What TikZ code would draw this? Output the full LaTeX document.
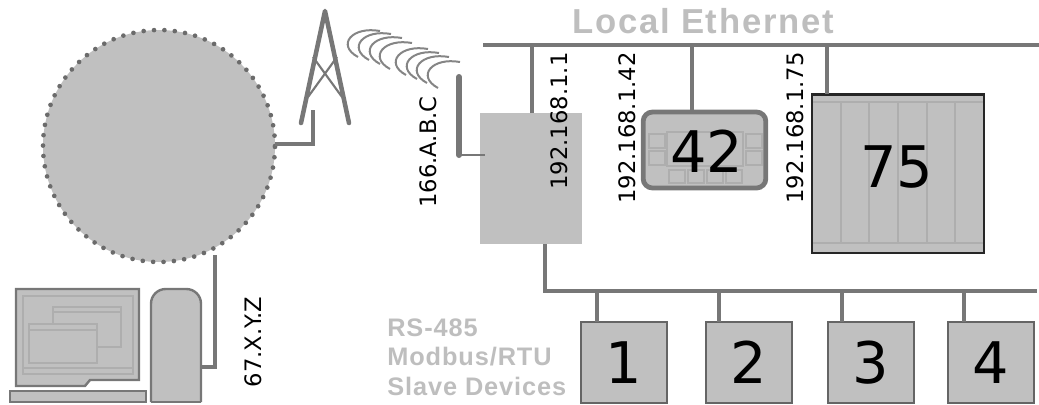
\documentclass[tikz,border=0pt]{standalone}
\usepackage{fontspec}
\setmainfont{DejaVu Sans}
\setsansfont{Liberation Sans}
\definecolor{boxgray}{HTML}{C0C0C0}
\definecolor{wiregray}{HTML}{777777}
\definecolor{edgegray}{HTML}{AEAEAE}
\definecolor{titlegray}{HTML}{BEBEBE}
\tikzset{
    wire/.style={wiregray,line width=3.4pt},
    thinpart/.style={edgegray,line width=0.8pt},
    darkpart/.style={draw=wiregray,fill=boxgray,line width=1.8pt},
    addr/.style={inner sep=0pt,rotate=90,font=\fontsize{17}{18}\selectfont},
    bignum/.style={inner sep=0pt,font=\fontsize{43}{44}\selectfont},
    slave/.style={draw=wiregray!85!black,fill=boxgray,line width=1.5pt,inner sep=0pt,minimum width=64.5pt,minimum height=60.5pt,font=\fontsize{43}{44}\selectfont},
    heading/.style={inner sep=0pt,titlegray,font=\sffamily\bfseries\fontsize{26}{28}\selectfont\addfontfeature{LetterSpace=5}},
    rslabel/.style={inner sep=0pt,anchor=west,titlegray,font=\sffamily\bfseries\fontsize{19}{20}\selectfont\addfontfeature{LetterSpace=3.6}}
}
\begin{document}
\begin{tikzpicture}[x=0.75pt,y=-0.75pt]
    \useasboundingbox (0,0) rectangle (1039,404);
    % Bus lines
    \coordinate (lanL) at (483,45); \coordinate (lanR) at (1039,45);
    \coordinate (rsC) at (545,291); \coordinate (rsR) at (1037,291);
    \draw[wire] (lanL)--(lanR);

    % Cloud
    \node[circle,fill=boxgray,draw=wiregray!90!black,line width=3.5pt,line cap=round,dash pattern=on 0pt off 7.8pt,minimum size=174pt,inner sep=0pt] (cloud) at (159,146) {};

    % Computer
    \coordinate (pcA) at (201,367); \coordinate (pcB) at (215,367); \coordinate (pcC) at (215,255);
    \draw[wire] (pcA)--(pcB)--(pcC);
    \draw[darkpart] (16,289)--(139,289)--(139,380)--(90,380)--(85,386)--(16,386)--cycle;
    \draw[thinpart] (23,296) rectangle (133,374); \draw[thinpart] (23,368)--(133,368);
    \draw[thinpart] (53,307) rectangle (121,347); \draw[thinpart] (53,312)--(121,312);
    \draw[thinpart,fill=boxgray] (29,324) rectangle (97,363); \draw[thinpart] (29,330)--(97,330);
    \draw[darkpart] (10,391) rectangle (146,402);
    \draw[darkpart,rounded corners=11pt] (151,402)--(151,289)--(201,289)--(201,402);
    \draw[darkpart] (151,402)--(201,402);
    \node[addr] (wanaddr) at (253,342) {67.X.Y.Z};

    % Tower
    \coordinate (top) at (325,11);
    \coordinate (legL) at (301,123); \coordinate (legR) at (349,123);
    \draw[wire,line cap=round,line join=round] (legL)--(top)--(legR);
    \draw[wiregray,line width=1.6pt] (313,57)--(342,97); \draw[wiregray,line width=1.6pt] (337,57)--(308,97);
    \coordinate (feedA) at (275,144); \coordinate (feedB) at (313,144); \coordinate (feedC) at (313,110);
    \draw[wire] (feedA)--(feedB)--(feedC);

    % Radio waves
    \foreach \x/\y in {380/31,391/34,402/38,412/43,428/49,439/53,449/57,460/62}
        \draw[wiregray!90,line width=1.5pt] (\x,\y) .. controls ++(-28,-5) and ++(-22,-12) .. ++(-22,26);

    % Modem
    \node[fill=boxgray,inner sep=0pt,minimum width=76.5pt,minimum height=98pt] (modem) at (531,178.5) {};
    \coordinate (antT) at (459,77); \coordinate (antB) at (459,155); \coordinate (antF) at (485,155);
    \draw[wire,line width=4.5pt,line cap=round] (antT)--(antB);
    \draw[wire,line width=1.5pt] (antB)--(antF);
    \node[addr] (cell) at (428,152) {166.A.B.C};
    \node[addr] (ipone) at (559,121) {192.168.1.1};
    \coordinate (modemT) at (532,113); \coordinate (modemB) at (545,244);
    \draw[wire] (modemT)--(modemT |- lanL);
    \draw[wire] (modemB)--(rsC)--(rsR);

    % Device 42
    \node[draw=wiregray,fill=boxgray,line width=3.6pt,rounded corners=7pt,inner sep=0pt,minimum width=92pt,minimum height=57pt] (dev42) at (704.5,150) {};
    \foreach \x/\y in {649/134,649/151,746/134,746/151} \draw[thinpart] (\x,\y) rectangle ++(16,14);
    \foreach \x in {669,688,707,726} \draw[thinpart] (\x,170) rectangle ++(16,13);
    \draw[thinpart] (667,132) rectangle (743,166);
    \node[bignum] (num42) at (707,151) {42};
    \coordinate (dev42T) at (692,112);
    \draw[wire] (dev42T)--(dev42T |- lanL);
    \node[addr] (iptwo) at (627,128) {192.168.1.42};

    % Device 75
    \node[draw=black!85,fill=boxgray,line width=2pt,inner sep=0pt,minimum width=129pt,minimum height=119pt] (dev75) at (898,173.5) {};
    \foreach \x in {841,869,898,927,955} \draw[thinpart] (\x,102)--(\x,243);
    \draw[thinpart] (813,102)--(983,102); \draw[thinpart] (813,243)--(983,243);
    \node[bignum] (num75) at (897,167) {75};
    \coordinate (dev75T) at (827,94);
    \draw[wire] (dev75T)--(dev75T |- lanL);
    \node[addr] (ipthree) at (795,128) {192.168.1.75};

    % Slave devices
    \foreach \n/\x in {1/623.5,2/748.5,3/871,4/991}
        \node[slave] (s\n) at (\x,362.5) {\n};
    \foreach \n/\x in {1/597,2/719,3/842,4/964} {
        \coordinate (d\n) at (\x,322);
        \draw[wire] (d\n)--(d\n |- rsR);
    }

    % Texts
    \node[heading] (lantitle) at (703,21) {Local Ethernet};
    \node[rslabel] (rs1) at (387,328) {RS-485};
    \node[rslabel] (rs2) at (387,357) {Modbus/RTU};
    \node[rslabel] (rs3) at (387,386) {Slave Devices};
\end{tikzpicture}
\end{document}
